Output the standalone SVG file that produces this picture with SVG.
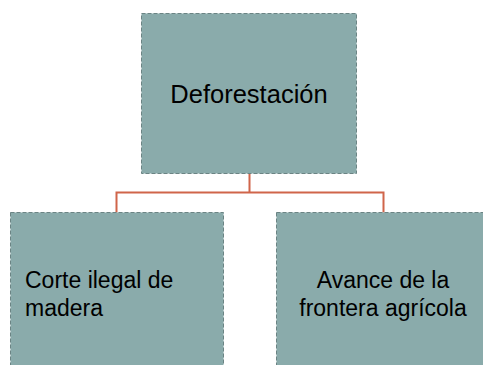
<svg xmlns="http://www.w3.org/2000/svg" width="483" height="365" viewBox="0 0 483 365">
<style>
.box{fill:#8aabab;stroke:#6b8484;stroke-width:1;stroke-dasharray:4 2}
.lbl{font-family:"Liberation Sans",Arial,sans-serif;fill:#000}
.conn{fill:none;stroke:#d0654a;stroke-width:2}
</style>
<rect width="483" height="365" fill="#fff"/>
<g id="connectors">
<path class="conn" d="M249.5 174 V192.5 M116.5 212.5 V192.5 H383.5 V212.5"/>
</g>
<g id="node-deforestacion">
<rect class="box" x="141.5" y="13.5" width="215" height="160"/>
<text class="lbl" x="249" y="103" font-size="25.5" text-anchor="middle">Deforestación</text>
</g>
<g id="node-corte">
<rect class="box" x="10.5" y="212.5" width="213" height="170"/>
<text class="lbl" x="25" y="288" font-size="23">Corte ilegal de</text>
<text class="lbl" x="25" y="316" font-size="23">madera</text>
</g>
<g id="node-avance">
<rect class="box" x="276.5" y="212.5" width="213" height="170"/>
<text class="lbl" x="383" y="288" font-size="23" text-anchor="middle">Avance de la</text>
<text class="lbl" x="383" y="316" font-size="23" text-anchor="middle">frontera agrícola</text>
</g>
</svg>
